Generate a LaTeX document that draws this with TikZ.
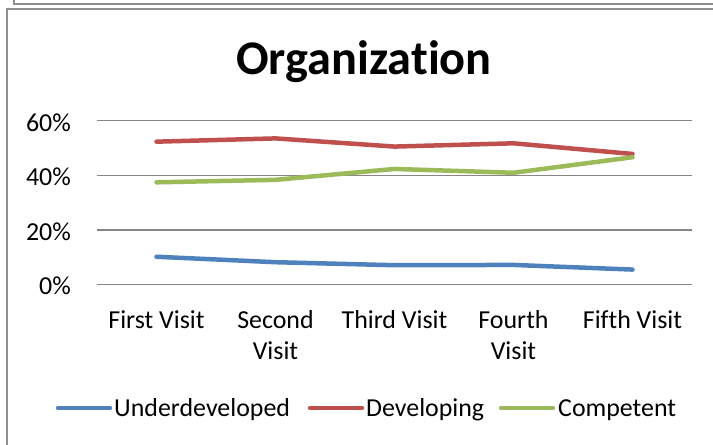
\documentclass[tikz,border=0pt]{standalone}
\usepackage{fontspec}
\setmainfont{Carlito}[Ligatures=NoCommon]
\usepackage{tikz}
\usepackage{xcolor}
\usetikzlibrary{positioning}

\definecolor{underblue}{HTML}{4F81BD}
\definecolor{devred}{HTML}{C0504D}
\definecolor{compgreen}{HTML}{9BBB59}
\definecolor{gridgray}{HTML}{868686}
\definecolor{framegray}{HTML}{8E8E8E}

\tikzset{
  series/.style={line width=4.5bp, line cap=round, line join=round},
  gridline/.style={gridgray, line width=1.5bp},
  ticklabel/.style={inner sep=0pt, font=\fontsize{26}{31.5}\selectfont},
}

\begin{document}
\begin{tikzpicture}[x=1bp,y=-1bp]
\useasboundingbox (0,0) rectangle (713,445);

% frames
\draw[framegray, line width=2bp] (14,0) -- (14,4) -- (713,4);
\draw[framegray, line width=2bp] (7,445) -- (7,9) -- (713,9);

\node[anchor=base, inner sep=0pt, font=\fontsize{48.5}{52}\selectfont\bfseries] (title) at (364,75) {Organization};

% grid
\draw[gridline] (97,284.3) -- (692,284.3);
\draw[gridline] (97,229.8) -- (692,229.8);
\draw[gridline] (97,175.3) -- (692,175.3);
\draw[gridline] (97,120.7) -- (692,120.7);

\node[ticklabel, anchor=east] (p0) at (71,286) {0\%};
\node[ticklabel, anchor=east] (p20) at (71,231.5) {20\%};
\node[ticklabel, anchor=east] (p40) at (71,177) {40\%};
\node[ticklabel, anchor=east] (p60) at (71,122.4) {60\%};

\node[ticklabel, anchor=north] (v1) at (156.5,310) {First Visit};
\node[ticklabel, anchor=north, align=center] (v2) at (275.5,310) {Second\\Visit};
\node[ticklabel, anchor=north] (v3) at (394.5,310) {Third Visit};
\node[ticklabel, anchor=north, align=center] (v4) at (513.5,310) {Fourth\\Visit};
\node[ticklabel, anchor=north] (v5) at (632.5,310) {Fifth Visit};

% data
\begin{scope}[shift={(0,284.3)}, y=2.727bp]
\draw[series, underblue] (156.5,10.1) -- (275.5,8.1) -- (394.5,7.0) -- (513.5,7.1) -- (632.5,5.4);
\draw[series, devred] (156.5,52.3) -- (275.5,53.5) -- (394.5,50.5) -- (513.5,51.7) -- (632.5,47.8);
\draw[series, compgreen] (156.5,37.4) -- (275.5,38.3) -- (394.5,42.3) -- (513.5,40.9) -- (632.5,46.6);
\end{scope}

% legend
\draw[series, underblue] (58,408) -- (110,408);
\node[ticklabel, anchor=base west] (lunder) at (114,416) {Underdeveloped};
\draw[series, devred] (310,408) -- (362,408);
\node[ticklabel, anchor=base west] (ldev) at (366,416) {Developing};
\draw[series, compgreen] (501,408) -- (553,408);
\node[ticklabel, anchor=base west] (lcomp) at (558,416) {Competent};

\end{tikzpicture}
\end{document}
